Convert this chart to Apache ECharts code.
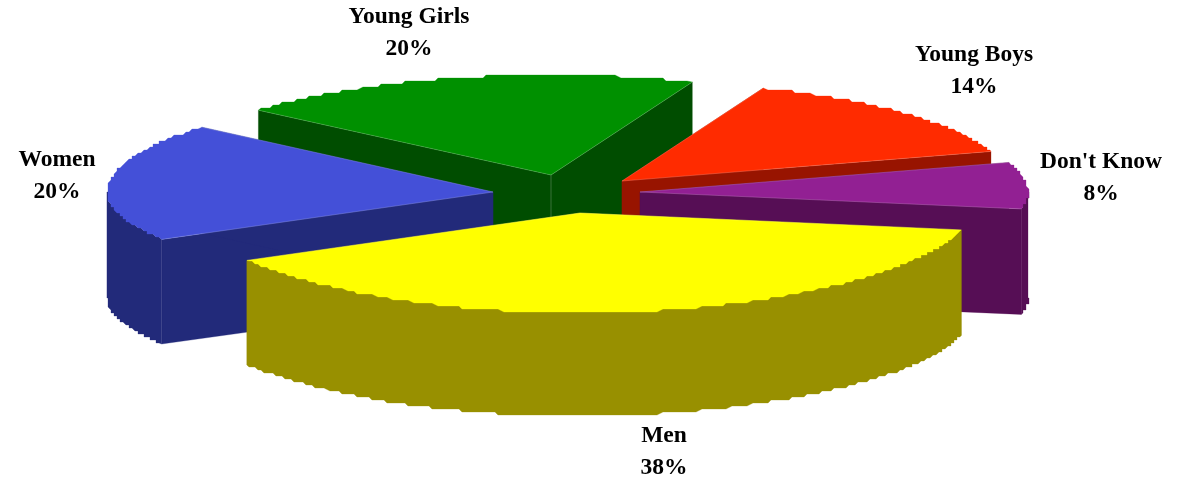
<!DOCTYPE html>
<html>
<head>
<meta charset="utf-8">
<style>html,body{margin:0;padding:0;background:#fff}#c{width:1177px;height:478px}</style>
<script src="https://cdn.jsdelivr.net/npm/echarts@6/dist/echarts.min.js"></script>
</head>
<body>
<div id="c"></div>
<script>
// Data, in clockwise order starting from Men (shares; labels are rounded)
var categories = ['Men', 'Women', 'Young Girls', 'Young Boys', "Don't Know"];
var shares = [38, 20, 19.8, 14.2, 8];

// Styling and layout
var topColors = ['#ffff00', '#4450d8', '#009000', '#ff2b00', '#922093'];
var sideColors = ['#989000', '#222a7a', '#004d00', '#981400', '#560e55'];
var apexes = [[580, 213], [493, 192], [551, 175], [622, 181], [640, 192]];
var labelPos = [[664, 452], [57, 176], [409, 33], [974, 71], [1101, 178]];
var rimScale = [1, 0.995, 1, 1, 1];
var drawOrder = [2, 3, 1, 4, 0];
var RX = 388, RY = 100, DEPTH = 106, FIRST_ANGLE = 11.6, SNAP = 3;

var total = shares.reduce(function (a, b) { return a + b; }, 0);
var starts = [], run = FIRST_ANGLE;
shares.forEach(function (v) { starts.push(run); run += v / total * 360; });

// Projects a rim angle onto the page: slightly larger toward the viewer, lower rim a bit flatter.
function rimPoint(i, deg, lower, snap) {
  var t = deg * Math.PI / 180, c = apexes[i], s = Math.sin(t);
  var rx = RX * rimScale[i] * (1 + 0.015 * s);
  var yf = s > 0 ? (0.8 + 0.2 * s) * (lower ? 0.97 : 1) : 1;
  var x = c[0] + rx * Math.cos(t), y = c[1] + RY * yf * s;
  if (snap) { x = Math.round(x / SNAP) * SNAP; y = Math.round(y / SNAP) * SNAP; }
  return [x, y + (lower ? DEPTH : 0)];
}
function arc(i, a0, a1, lower) {
  var pts = [rimPoint(i, a0, lower, false)];
  var n = Math.ceil(Math.abs(a1 - a0) * 1.5);
  for (var k = 1; k < n; k++) pts.push(rimPoint(i, a0 + (a1 - a0) * k / n, lower, true));
  pts.push(rimPoint(i, a1, lower, false));
  return pts;
}
function poly(points, fill) {
  return { type: 'polygon', shape: { points: points }, style: { fill: fill, stroke: fill, lineWidth: 0.3 } };
}
var EDGE = 'rgba(255,255,255,0.22)';
function renderItem(params, api) {
  var i = drawOrder[params.dataIndex];
  var c = apexes[i], a0 = starts[i], a1 = a0 + api.value(0) / total * 360;
  var side = sideColors[i], kids = [];
  [a0, a1].forEach(function (a) {
    var e = rimPoint(i, a, false, false), b = rimPoint(i, a, true, false);
    kids.push(poly([c, e, b, [c[0], c[1] + DEPTH]], side));
  });
  // visible outer wall: portions of the arc facing the viewer (0..180 deg, mod 360)
  [[0, 180], [360, 540]].forEach(function (w) {
    var s = Math.max(a0, w[0]), t = Math.min(a1, w[1]);
    if (s < t) kids.push(poly(arc(i, s, t, false).concat(arc(i, s, t, true).reverse()), side));
  });
  // the apex edge is only visible on the slice whose two cut faces both look at the viewer
  if (a0 < 270 && a1 > 270) {
    kids.push({ type: 'line', shape: { x1: c[0], y1: c[1], x2: c[0], y2: c[1] + DEPTH },
      style: { stroke: EDGE, lineWidth: 1 } });
  }
  kids.push(poly([c].concat(arc(i, a0, a1, false)), topColors[i]));
  [a0, a1].forEach(function (a) {
    var e = rimPoint(i, a, false, false);
    kids.push({ type: 'line', shape: { x1: c[0], y1: c[1], x2: e[0], y2: e[1] },
      style: { stroke: EDGE, lineWidth: 0.8 } });
  });
  return { type: 'group', children: kids };
}
function labelItem(params, api) {
  var i = drawOrder[params.dataIndex];
  return { type: 'text', x: labelPos[i][0], y: labelPos[i][1], z2: 100,
    style: { text: categories[i] + '\n' + Math.round(api.value(0)) + '%', x: 0, y: 0,
      align: 'center', verticalAlign: 'middle', fill: '#000', lineHeight: 32,
      font: 'bold 23.5px "Liberation Serif", serif' } };
}
var rows = drawOrder.map(function (i) { return { name: categories[i], value: [shares[i]] }; });
var chart = echarts.init(document.getElementById('c'), null, { renderer: 'canvas' });
chart.setOption({
  animation: false,
  backgroundColor: '#fff',
  series: [
    { type: 'custom', coordinateSystem: 'none', silent: true, renderItem: renderItem, data: rows, z: 1 },
    { type: 'custom', coordinateSystem: 'none', silent: true, renderItem: labelItem, data: rows, z: 2 }
  ]
});
</script>
</body>
</html>
